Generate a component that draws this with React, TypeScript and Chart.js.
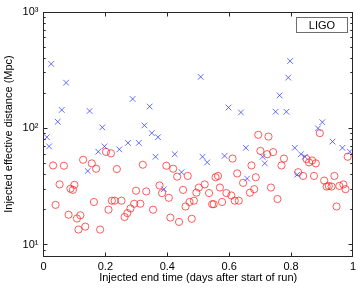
import React, { useEffect, useRef } from 'react';
import { Chart, registerables } from 'chart.js';

Chart.register(...registerables);

// Blue "x" markers: injected end time (days) and effective distance (Mpc)
const crossTimes = [
  0.011, 0.018, 0.025, 0.046, 0.059, 0.073, 0.143, 0.149, 0.177, 0.19, 0.197, 0.245,
  0.273, 0.288, 0.308, 0.326, 0.343, 0.35, 0.362, 0.37, 0.389, 0.424, 0.446, 0.508,
  0.514, 0.529, 0.585, 0.598, 0.638, 0.654, 0.658, 0.708, 0.715, 0.75, 0.763, 0.785,
  0.791, 0.797, 0.812, 0.82, 0.832, 0.845, 0.887, 0.901, 0.934, 0.966, 0.99,
];
const crossDistances = [
  84, 70, 358, 114, 144, 247, 43, 141, 63, 102, 70, 66,
  75, 179, 75, 106, 154, 91, 57, 84, 30, 60, 42, 277,
  57, 51, 58, 151, 137, 68, 37, 57, 50, 139, 192, 139,
  273, 379, 68, 40, 60, 57, 100, 113, 77, 68, 63,
];

// Red circles: injected end time (days) and effective distance (Mpc)
const circleTimes = [
  0.031, 0.039, 0.052, 0.066, 0.081, 0.087, 0.095, 0.1, 0.108, 0.113, 0.119, 0.128,
  0.135, 0.156, 0.163, 0.17, 0.183, 0.202, 0.21, 0.218, 0.221, 0.23, 0.237, 0.252,
  0.262, 0.271, 0.281, 0.293, 0.299, 0.313, 0.321, 0.332, 0.354, 0.375, 0.383, 0.397,
  0.405, 0.41, 0.419, 0.432, 0.438, 0.451, 0.459, 0.466, 0.472, 0.479, 0.486, 0.494,
  0.502, 0.521, 0.535, 0.545, 0.55, 0.556, 0.564, 0.57, 0.577, 0.591, 0.607, 0.611,
  0.618, 0.626, 0.631, 0.645, 0.667, 0.672, 0.681, 0.686, 0.694, 0.701, 0.723, 0.727,
  0.735, 0.742, 0.756, 0.769, 0.777, 0.823, 0.839, 0.85, 0.858, 0.868, 0.874, 0.88,
  0.893, 0.907, 0.915, 0.922, 0.931, 0.94, 0.947, 0.956, 0.969, 0.976, 0.983,
];
const circleDistances = [
  48, 22, 33, 47.7, 18.1, 30.3, 29.6, 32.7, 16.8, 13.5, 17.9, 53.7,
  14.3, 50, 23.3, 45, 13.5, 62.8, 20, 61, 23.9, 23.9, 44.7, 23.9,
  17.3, 18.7, 20.5, 22.5, 29.1, 22.5, 48.7, 28.7, 20, 32.3, 27.8, 47.7,
  25.3, 17.1, 45, 38.5, 15.7, 29.6, 21.3, 39, 23.3, 16.7, 23.9, 28,
  31, 33, 27.8, 22.3, 22.3, 38, 39, 31, 23.3, 27.8, 26.5, 55,
  23.9, 41, 23.9, 34, 28, 48, 30, 38, 88, 64, 60, 85,
  31, 62.5, 24.7, 48, 55, 42, 39, 54.5, 51, 53, 39, 50,
  91, 35.6, 31.6, 32, 31.6, 39, 21.3, 32, 33, 30, 57,
];

const xTickValues = [0, 0.2, 0.4, 0.6, 0.8, 1];
const xTickLabels = ['0', '0.2', '0.4', '0.6', '0.8', '1'];
const yTickValues = [10, 100, 1000];
const yTickLabels = ['10¹', '10²', '10³'];
const legendLabel = 'LIGO';
const xTitle = 'Injected end time (days after start of run)';
const yTitle = 'Injected effective distance (Mpc)';

const FONT = '"Liberation Sans", Arial, Helvetica, sans-serif';

const framePlugin = {
  id: 'matlabFrame',
  afterDraw(chart: any) {
    const { ctx, chartArea: a, scales } = chart;
    const xs = scales.x;
    const ys = scales.y;
    const L = Math.floor(a.left) + 0.5;
    const R = Math.floor(a.right) + 0.5;
    const T = Math.floor(a.top) + 0.5;
    const B = Math.floor(a.bottom) + 0.5;
    ctx.save();
    ctx.strokeStyle = '#262626';
    ctx.lineWidth = 1;
    ctx.strokeRect(L, T, R - L, B - T);
    ctx.beginPath();
    xTickValues.forEach((v) => {
      const px = Math.floor(xs.getPixelForValue(v)) + 0.5;
      ctx.moveTo(px, B);
      ctx.lineTo(px, B - 4);
      ctx.moveTo(px, T);
      ctx.lineTo(px, T + 4);
    });
    for (let d = 0; d <= 3; d++) {
      for (let m = 1; m <= 9; m++) {
        const v = m * Math.pow(10, d);
        if (v < ys.min || v > ys.max) continue;
        const py = Math.floor(ys.getPixelForValue(v)) + 0.5;
        const len = m === 1 ? 4 : 2.2;
        ctx.moveTo(L, py);
        ctx.lineTo(L + len, py);
        ctx.moveTo(R, py);
        ctx.lineTo(R - len, py);
      }
    }
    ctx.stroke();

    // legend box
    const bx = 296.5, by = 17.5, bw = 51, bh = 15;
    ctx.fillStyle = '#ffffff';
    ctx.fillRect(bx, by, bw, bh);
    ctx.strokeStyle = '#6e6e6e';
    ctx.strokeRect(bx, by, bw, bh);
    ctx.fillStyle = '#000000';
    ctx.font = `11px ${FONT}`;
    ctx.textAlign = 'center';
    ctx.textBaseline = 'middle';
    ctx.fillText(legendLabel, bx + bw / 2, by + bh / 2 + 0.5);
    ctx.restore();
  },
};

export default function App() {
  const ref = useRef<HTMLCanvasElement | null>(null);

  useEffect(() => {
    if (!ref.current) return;
    const chart = new Chart(ref.current, {
      type: 'scatter',
      data: {
        datasets: [
          {
            label: 'LIGO x',
            data: crossTimes.map((t, i) => ({ x: t, y: crossDistances[i] })),
            pointStyle: 'crossRot',
            pointRadius: 4,
            borderColor: 'rgba(30,50,255,0.7)',
            backgroundColor: 'rgba(0,0,0,0)',
            borderWidth: 1,
          },
          {
            label: 'LIGO o',
            data: circleTimes.map((t, i) => ({ x: t, y: circleDistances[i] })),
            pointStyle: 'circle',
            pointRadius: 3.6,
            borderColor: 'rgba(255,30,30,0.72)',
            backgroundColor: 'rgba(0,0,0,0)',
            borderWidth: 1,
          },
        ],
      },
      options: {
        animation: false,
        responsive: false,
        devicePixelRatio: 1,
        events: [],
        layout: { padding: { top: 12, right: 7, left: 0, bottom: 0 } },
        plugins: {
          legend: { display: false },
          tooltip: { enabled: false },
        },
        scales: {
          x: {
            type: 'linear',
            min: 0,
            max: 1,
            afterBuildTicks: (s: any) => {
              s.ticks = xTickValues.map((v) => ({ value: v }));
            },
            afterFit: (s: any) => {
              s.height = 32;
            },
            ticks: {
              callback: (v: any) => {
                const i = xTickValues.indexOf(Number(v));
                return i >= 0 ? xTickLabels[i] : '';
              },
              font: { family: FONT, size: 11 },
              color: '#000',
              padding: 4,
              maxRotation: 0,
              autoSkip: false,
            },
            grid: { display: false, drawTicks: false },
            border: { display: false },
            title: {
              display: true,
              text: xTitle,
              font: { family: FONT, size: 11 },
              color: '#000',
              padding: { top: 0, bottom: 3 },
            },
          },
          y: {
            type: 'logarithmic',
            min: 8,
            max: 1000,
            afterBuildTicks: (s: any) => {
              s.ticks = yTickValues.map((v) => ({ value: v, major: true }));
            },
            afterFit: (s: any) => {
              s.width = 43.5;
            },
            ticks: {
              callback: (v: any) => {
                const i = yTickValues.indexOf(Number(v));
                return i >= 0 ? yTickLabels[i] : '';
              },
              font: { family: FONT, size: 11 },
              color: '#000',
              padding: 5,
              autoSkip: false,
            },
            grid: { display: false, drawTicks: false },
            border: { display: false },
            title: {
              display: true,
              text: yTitle,
              font: { family: FONT, size: 11 },
              color: '#000',
              padding: { top: 2, bottom: 0 },
            },
          },
        },
      },
      plugins: [framePlugin],
    } as any);
    return () => chart.destroy();
  }, []);

  return (
    <div style={{ position: 'fixed', left: 0, top: 0, width: 360, height: 288, background: '#fff' }}>
      <canvas ref={ref} width={360} height={288} style={{ display: 'block' }} />
    </div>
  );
}
